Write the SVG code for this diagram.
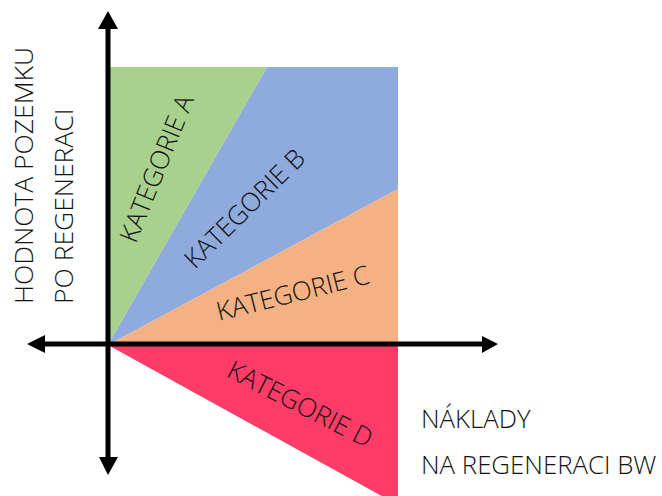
<svg xmlns="http://www.w3.org/2000/svg" width="662" height="496" viewBox="0 0 662 496">
<style>
.lbl{font-family:"Open Sans","Liberation Sans",sans-serif;font-size:26.5px;font-weight:300;fill:#111}
.xl{font-size:25.8px}
.cat{font-family:"Open Sans","Liberation Sans",sans-serif;font-size:26px;font-weight:300;fill:#111;text-anchor:middle}
.axis{stroke:#000;stroke-width:5;fill:none}
.head{fill:#000}
</style>
<rect width="662" height="496" fill="#fff"/>
<g id="catA"><polygon points="108,67 267,67 108,345" fill="#A9D18E"/><text class="cat" transform="translate(165,172) rotate(-68)">KATEGORIE A</text></g>
<g id="catB"><polygon points="267,67 398,67 398,189 108,345" fill="#8FAADC"/><text class="cat" transform="translate(251,215) rotate(-44.5)">KATEGORIE B</text></g>
<g id="catC"><polygon points="398,189 398,345 108,345" fill="#F4B183"/><text class="cat" transform="translate(295,302) rotate(-14)">KATEGORIE C</text></g>
<g id="catD"><polygon points="108,345 398,345 398,505" fill="#FF3B67"/><text class="cat" transform="translate(296,412) rotate(27)">KATEGORIE D</text></g>
<g id="connectors">
<line class="axis" x1="108" y1="25" x2="108" y2="461"/>
<line class="axis" x1="41" y1="344" x2="486" y2="344"/>
<polygon class="head" points="108,11 98,29 118,29"/>
<polygon class="head" points="108,475 99,457 118,457"/>
<polygon class="head" points="27,344 45,335 45,353"/>
<polygon class="head" points="498,344 482,336 482,353"/>
</g>
<g id="yLabel">
<text class="lbl" transform="translate(33,304) rotate(-90)">HODNOTA POZEMKU</text>
<text class="lbl" transform="translate(73,304) rotate(-90)">PO REGENERACI</text>
</g>
<g id="xLabel">
<text class="lbl xl" x="421" y="428">NÁKLADY</text>
<text class="lbl xl" x="421" y="474">NA REGENERACI BW</text>
</g>
</svg>
